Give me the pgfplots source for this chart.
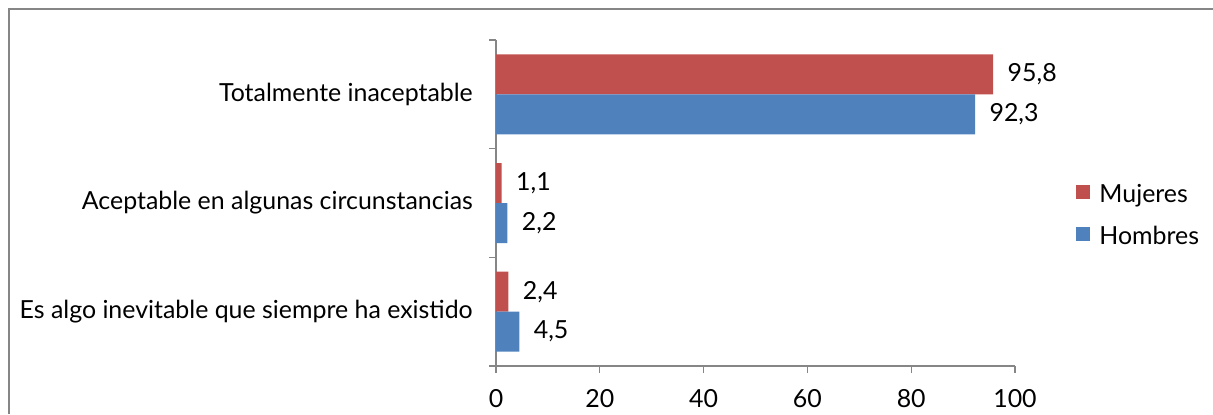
\documentclass[border=0pt]{standalone}
\usepackage{fontspec}
\setmainfont{Lato}
\usepackage{pgfplots}
\pgfplotsset{compat=1.18}
\definecolor{mred}{HTML}{C0504D}
\definecolor{mblue}{HTML}{4F81BD}
\definecolor{axgray}{HTML}{868686}
\begin{document}
\begin{tikzpicture}[x=1bp,y=1bp]
\useasboundingbox (0,0) rectangle (1213,414);
\draw[axgray, line width=2bp] (9,0) -- (9,405) -- (1213,405);
\begin{axis}[
  at={(496bp,48bp)}, anchor=south west,
  scale only axis, width=519bp, height=326bp,
  xmin=0, xmax=100, ymin=-0.5, ymax=2.5,
  xbar, bar width=40bp,
  axis x line*=bottom, axis y line*=left,
  axis line style={axgray, line width=1.2bp, -},
  every tick/.style={axgray, line width=1.2bp},
  tick align=outside, major tick length=7bp,
  xtick={0,20,...,100},
  ytick={-0.5,0.5,1.5,2.5}, yticklabels={},
  extra y ticks={0,1,2},
  extra y tick labels={Es algo inevitable que siempre ha existido, Aceptable en algunas circunstancias, Totalmente inaceptable},
  extra y tick style={major tick length=0pt, yticklabel style={inner sep=0pt, xshift=-23bp}},
  font=\fontsize{25}{30}\selectfont,
  ticklabel style={font=\fontsize{25}{30}\selectfont},
  xticklabel style={inner sep=0pt, yshift=-16bp},
  /pgf/number format/assume math mode=true,
  nodes near coords,
  nodes near coords style={anchor=west, xshift=11bp, font=\fontsize{25}{30}\selectfont,
    /pgf/number format/.cd, fixed, fixed zerofill, precision=1, use comma, assume math mode=true},
  legend style={draw=none, at={(1.118,0.463)}, anchor=west, font=\fontsize{25}{30}\selectfont,
    row sep=18bp, inner sep=0pt},
  legend cell align=left,
  legend image code/.code={\fill[#1] (0bp,-5bp) rectangle (14bp,9bp); \path (21bp,0bp);},
  clip=false,
]
\addplot[fill=mred, draw=none, bar shift=20bp] coordinates {(2.4,0) (1.1,1) (95.8,2)};
\addplot[fill=mblue, draw=none, bar shift=-20bp] coordinates {(4.5,0) (2.2,1) (92.3,2)};
\legend{Mujeres, Hombres}
\end{axis}
\end{tikzpicture}
\end{document}
